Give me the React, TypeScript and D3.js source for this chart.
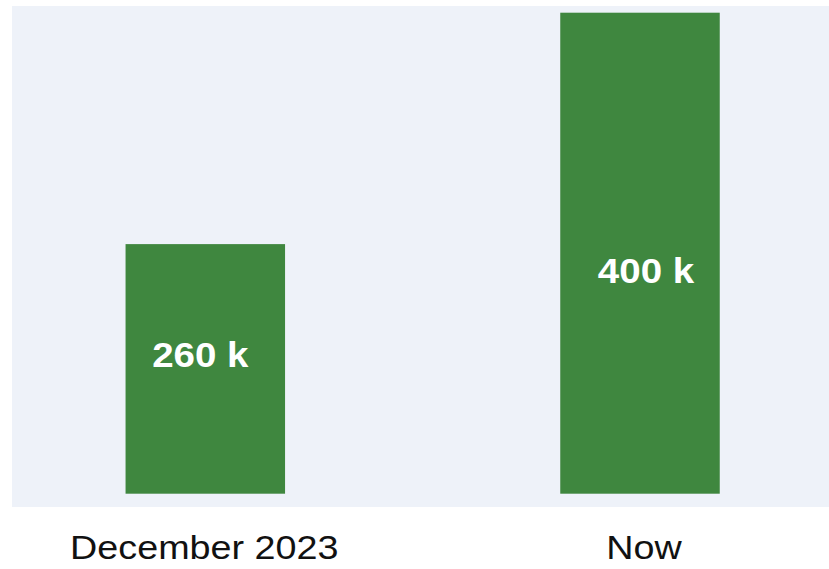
import React, { useEffect, useRef } from 'react';
import * as d3 from 'd3';

const categories = ['December 2023', 'Now'];
const values = [260, 400];
const valueLabels = ['260 k', '400 k'];

const App: React.FC = () => {
  const svgRef = useRef<SVGSVGElement>(null);

  useEffect(() => {
    if (!svgRef.current) return;
    const width = 829;
    const height = 569;

    const svg = d3.select(svgRef.current)
      .attr('width', width)
      .attr('height', height);
    svg.selectAll('*').remove();

    // plot area background
    const plot = { left: 12, right: 829, top: 6, bottom: 507 };
    svg.append('rect')
      .attr('x', plot.left)
      .attr('y', plot.top)
      .attr('width', plot.right - plot.left)
      .attr('height', plot.bottom - plot.top)
      .attr('fill', '#eef2f9');

    const x = d3.scalePoint<string>()
      .domain(categories)
      .range([205.3, 640]);

    // axis baseline doesn't sit at zero in the original
    const y = d3.scaleLinear()
      .domain([109, 400])
      .range([493.7, 12.7]);

    const bw = 159.5;
    svg.selectAll('rect.bar')
      .data(values)
      .enter()
      .append('rect')
      .attr('class', 'bar')
      .attr('x', (_, i) => x(categories[i])! - bw / 2)
      .attr('y', d => y(d))
      .attr('width', bw)
      .attr('height', d => y(109) - y(d))
      .attr('fill', '#3f873f');

    // value labels inside bars (original is slightly stretched horizontally)
    const labelPos = [{ dx: -5, y: 367 }, { dx: 6, y: 283 }];
    svg.selectAll('text.val')
      .data(valueLabels)
      .enter()
      .append('text')
      .attr('class', 'val')
      .attr('transform', (_, i) =>
        `translate(${x(categories[i])! + labelPos[i].dx},${labelPos[i].y}) scale(1.1,1)`)
      .attr('text-anchor', 'middle')
      .attr('font-family', 'Liberation Sans, Arial, sans-serif')
      .attr('font-weight', 'bold')
      .attr('font-size', '35px')
      .attr('fill', 'white')
      .text(d => d);

    // category labels
    const catDx = [-1, 4];
    svg.selectAll('text.cat')
      .data(categories)
      .enter()
      .append('text')
      .attr('class', 'cat')
      .attr('transform', (d, i) => `translate(${x(d)! + catDx[i]},559) scale(1.11,1)`)
      .attr('text-anchor', 'middle')
      .attr('font-family', 'Liberation Sans, Arial, sans-serif')
      .attr('font-size', '34px')
      .attr('fill', '#111')
      .text(d => d);
  }, []);

  return (
    <svg ref={svgRef} style={{ position: 'absolute', left: 0, top: 0, display: 'block' }}></svg>
  );
};

export default App;
